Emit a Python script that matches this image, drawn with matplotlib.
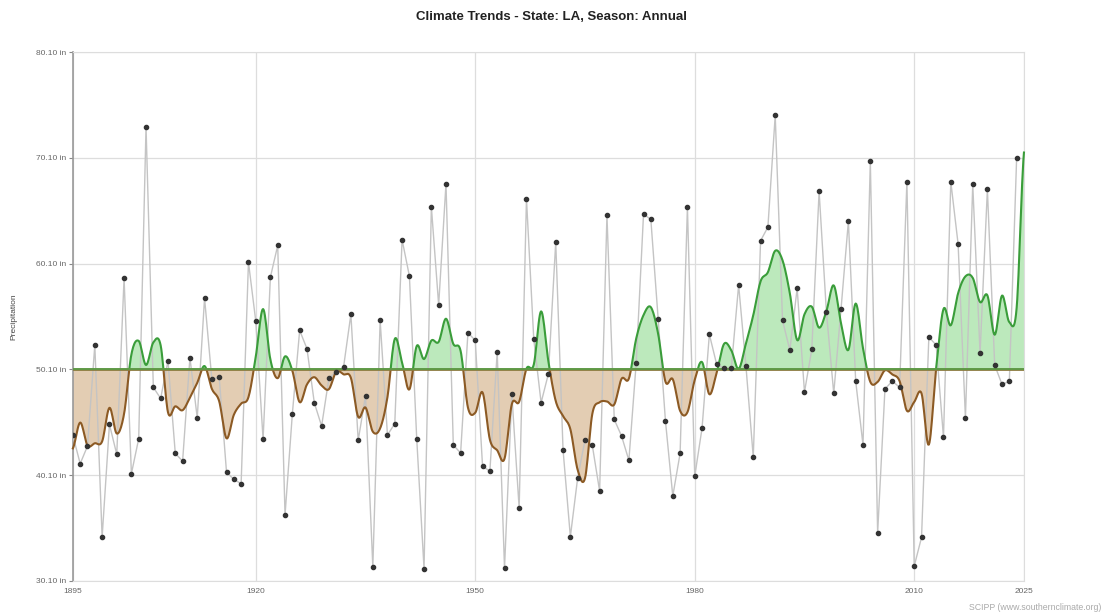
import matplotlib
matplotlib.use('Agg')
import matplotlib.pyplot as plt
import numpy as np
import pandas as pd
from matplotlib.patches import Rectangle

plt.rcParams['font.family'] = ['Liberation Sans', 'DejaVu Sans']

# годы и годовые осадки (дюймы)
years = list(range(1895, 2025))
precip = [
    43.86, 41.19, 42.85, 52.40, 34.25, 44.90, 42.07, 58.73, 40.24, 43.55,  # 1895-1904
    73.04, 48.40, 47.36, 50.90, 42.16, 41.43, 51.20, 45.53, 56.84, 49.15,  # 1905-1914
    49.37, 40.40, 39.70, 39.30, 60.24, 54.67, 43.48, 58.82, 61.82, 36.33,  # 1915-1924
    45.90, 53.79, 52.05, 46.95, 44.74, 49.28, 49.88, 50.32, 55.30, 43.39,  # 1925-1934
    47.61, 31.45, 54.73, 43.90, 44.97, 62.36, 58.92, 43.55, 31.26, 65.48,  # 1935-1944
    56.18, 67.65, 42.95, 42.20, 53.57, 52.84, 40.93, 40.49, 51.77, 31.32,  # 1945-1954
    47.74, 36.99, 66.23, 52.94, 46.95, 49.69, 62.13, 42.50, 34.29, 39.86,  # 1955-1964
    43.42, 42.92, 38.60, 64.66, 45.37, 43.80, 41.50, 50.73, 64.78, 64.28,  # 1965-1974
    54.89, 45.21, 38.13, 42.16, 65.44, 39.99, 44.55, 53.41, 50.57, 50.23,  # 1975-1984
    50.23, 58.07, 50.41, 41.81, 62.26, 63.55, 74.11, 54.73, 51.92, 57.76,  # 1985-1994
    47.96, 51.99, 66.92, 55.52, 47.83, 55.84, 64.09, 49.00, 42.95, 69.76,  # 1995-2004
    34.66, 48.24, 49.00, 48.40, 67.84, 31.51, 34.22, 53.16, 52.40, 43.67,  # 2005-2014
    67.84, 61.94, 45.50, 67.59, 51.61, 67.11, 50.51, 48.68, 48.97, 70.11,  # 2015-2024
]
baseline = 50.10
trend_end_year = 2025
trend_end_value = 70.6

yticks = [30.10, 40.10, 50.10, 60.10, 70.10, 80.10]
xticks = [1895, 1920, 1950, 1980, 2010, 2025]


# сглаживание: центрированное 5-летнее скользящее среднее
def trend(values):
    s = pd.Series(values).rolling(5, center=True, min_periods=1).mean()
    return list(s)


# кривая Катмулла-Рома для плавной линии тренда
def catmull(x, y, n=12):
    x = np.asarray(x, float)
    y = np.asarray(y, float)
    yp = np.concatenate([[y[0]], y, [y[-1]]])
    xs, ys = [], []
    t = np.linspace(0, 1, n, endpoint=False)
    for i in range(len(y) - 1):
        p0, p1, p2, p3 = yp[i], yp[i + 1], yp[i + 2], yp[i + 3]
        ys += list(0.5 * (2 * p1 + (-p0 + p2) * t + (2 * p0 - 5 * p1 + 4 * p2 - p3) * t ** 2
                          + (-p0 + 3 * p1 - 3 * p2 + p3) * t ** 3))
        xs += list(x[i] + (x[i + 1] - x[i]) * t)
    xs.append(x[-1])
    ys.append(y[-1])
    return np.array(xs), np.array(ys)


def main():
    fig = plt.figure(figsize=(11.04, 6.15), dpi=100)
    ax = fig.add_axes([0.066, 0.0553, 0.8615, 0.8601])

    tr_x = years + [trend_end_year]
    tr_y = trend(precip) + [trend_end_value]
    sx, sy = catmull(tr_x, tr_y)

    green_fill = '#bce9bc'
    green_line = '#3a9d3a'
    brown_fill = '#e3cdb3'
    brown_line = '#8c5a24'

    ax.fill_between(sx, baseline, sy, where=sy >= baseline, interpolate=True,
                    color=green_fill, lw=0, zorder=2)
    ax.fill_between(sx, baseline, sy, where=sy <= baseline, interpolate=True,
                    color=brown_fill, lw=0, zorder=2)

    up, = ax.plot(sx, sy, color=green_line, lw=1.5, zorder=4)
    up.set_clip_path(Rectangle((1890, baseline), 200, 100, transform=ax.transData))
    down, = ax.plot(sx, sy, color=brown_line, lw=1.5, zorder=4)
    down.set_clip_path(Rectangle((1890, 0), 200, baseline, transform=ax.transData))

    ax.axhline(baseline, color='#8a7a3e', lw=2.0, zorder=5)
    ax.axhline(baseline, color='#4aa84a', lw=1.2, zorder=5, alpha=0.8)

    ax.plot(years, precip, color='#c4c4c4', lw=1.0, zorder=3)
    ax.plot(years, precip, 'o', color='#333333', markersize=3.0, zorder=6)

    ax.set_xlim(1895, 2025)
    ax.set_ylim(30.10, 80.10)
    ax.set_xticks(xticks)
    ax.set_xticklabels([str(v) for v in xticks])
    ax.set_yticks(yticks)
    ax.set_yticklabels(['%.2f in' % v for v in yticks])
    ax.tick_params(axis='y', length=3, width=0.8, color='#888888', labelsize=6,
                   labelcolor='#666666', pad=2)
    ax.tick_params(axis='x', length=0, labelsize=6, labelcolor='#666666', pad=5)
    ax.grid(True, color='#dddddd', lw=0.9, zorder=0)
    ax.set_axisbelow(True)

    for side in ['top', 'right']:
        ax.spines[side].set_color('#dddddd')
    ax.spines['bottom'].set_color('#dddddd')
    ax.spines['left'].set_color('#999999')
    ax.spines['left'].set_linewidth(1.2)

    ax.set_ylabel('Precipitation', fontsize=6, color='#444444')
    ax.yaxis.set_label_coords(-0.058, 0.5)

    fig.text(0.5, 0.972, 'Climate Trends - State: LA, Season: Annual', ha='center',
             va='center', fontsize=9.5, fontweight='bold', color='#222222')
    fig.text(0.998, 0.013, 'SCIPP (www.southernclimate.org)', ha='right', va='center',
             fontsize=6.3, color='#aaaaaa')

    fig.savefig('out.png', dpi=100)


if __name__ == '__main__':
    main()
